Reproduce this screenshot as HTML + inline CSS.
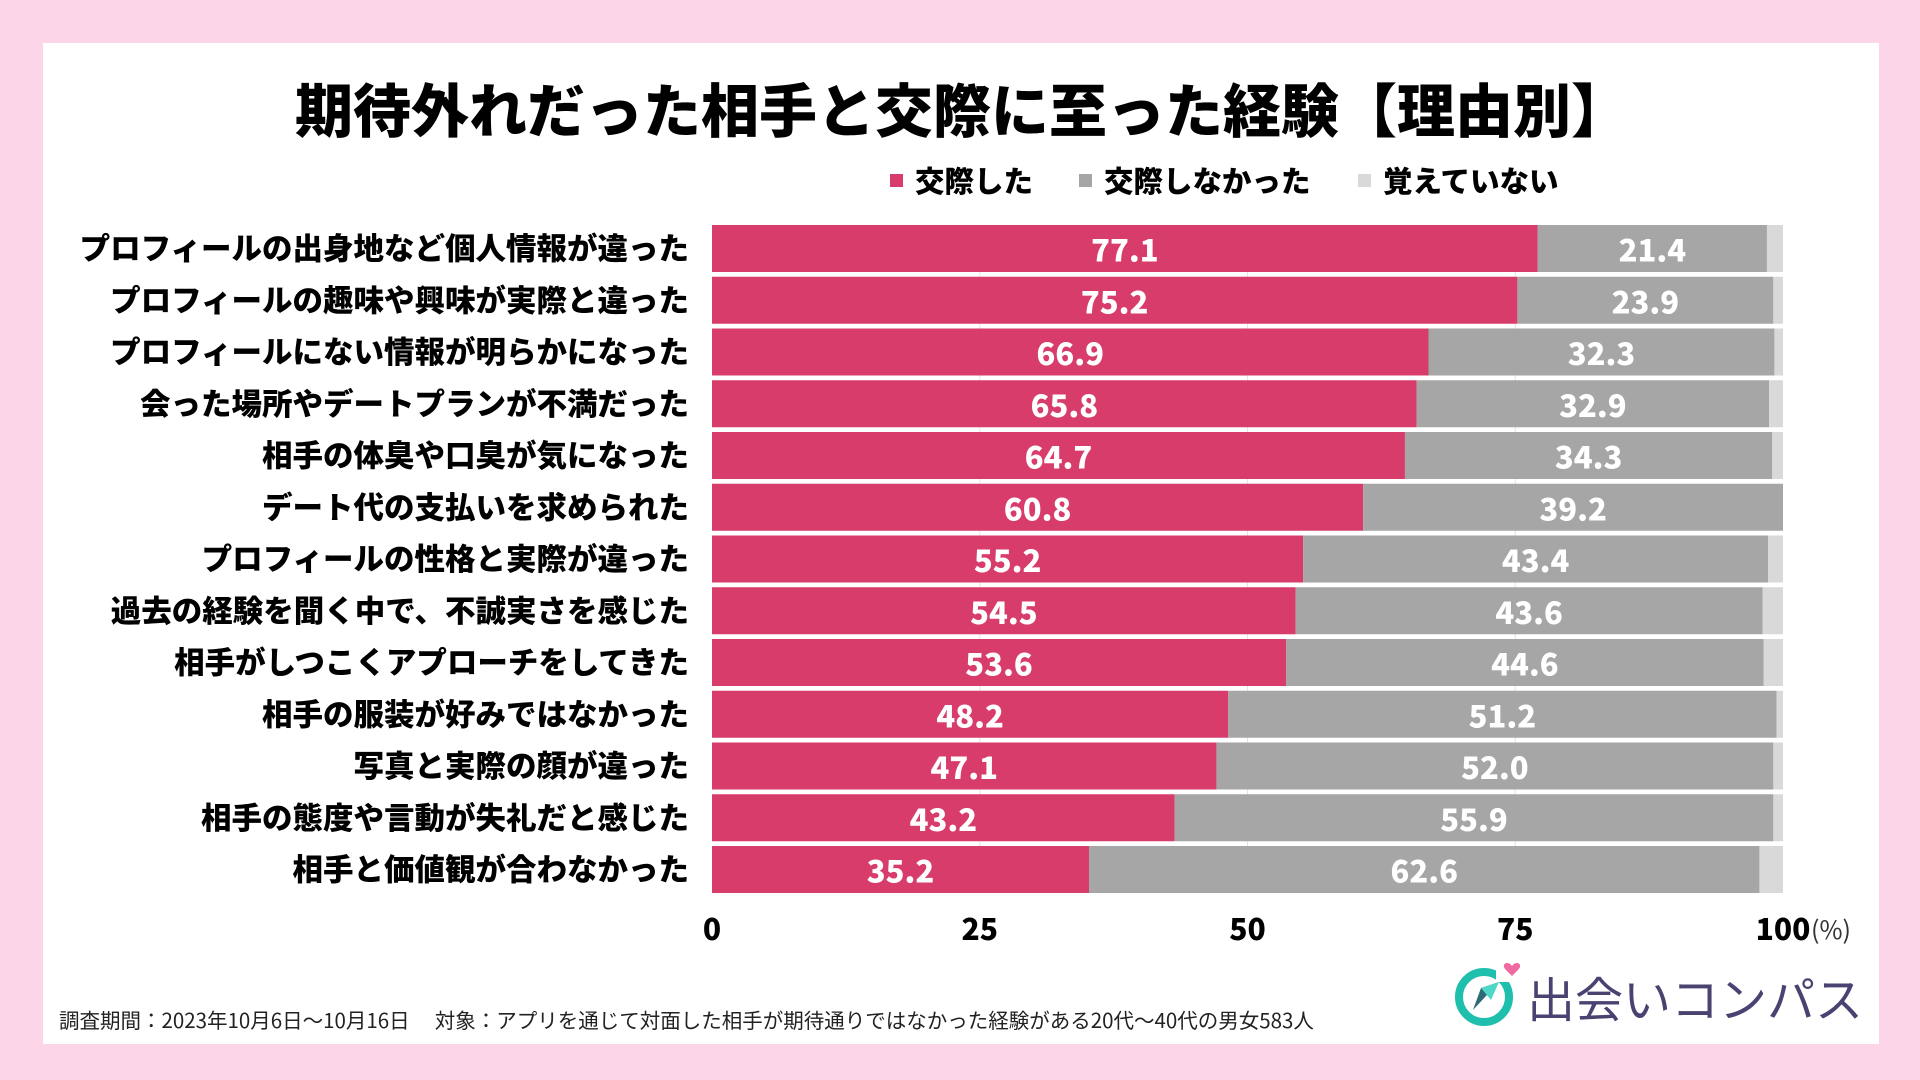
<!DOCTYPE html>
<html><head><meta charset="utf-8">
<style>
body{margin:0;width:1920px;height:1080px;background:#fdd5e8;overflow:hidden;font-family:"Liberation Sans","Noto Sans CJK JP",sans-serif;}
#panel{position:absolute;left:43px;top:43px;width:1836px;height:1001px;background:#fff;}
</style></head><body>
<div id="panel"></div>
<svg id="chart" width="1920" height="1080" style="position:absolute;left:0;top:0">
<text x="962" y="132" text-anchor="middle" font-size="58" font-weight="900" fill="#000" font-family="Noto Sans CJK JP, sans-serif">期待外れだった相手と交際に至った経験【理由別】</text>
<g font-size="29.5" font-weight="900" font-family="Noto Sans CJK JP, sans-serif">
<rect x="890" y="174" width="13" height="13" fill="#d83c6a"/>
<text x="915" y="192">交際した</text>
<rect x="1079" y="174" width="13" height="13" fill="#a6a6a6"/>
<text x="1104" y="192">交際しなかった</text>
<rect x="1358" y="174" width="13" height="13" fill="#d9d9d9"/>
<text x="1383" y="192">覚えていない</text>
</g>
<g id="grid"></g><g id="bars"></g><g id="labels"></g><g id="axis"></g>
<text x="59" y="1028" font-size="20.5" fill="#222" font-family="Noto Sans CJK JP, sans-serif">調査期間：2023年10月6日〜10月16日　 対象：アプリを通じて対面した相手が期待通りではなかった経験がある20代〜40代の男女583人</text>
<g>
<circle cx="1484" cy="997" r="25" fill="none" stroke="#1fbfae" stroke-width="8"/>
<rect x="1496" y="960" width="22" height="22" fill="#fff"/>
<path d="M1512 966 c-4 -6 -12 -2 -6 4 l6 6 6 -6 c6 -6 -2 -10 -6 -4z" fill="#ef6aa0"/>
<polygon points="1473,1010 1481,988 1499,982" fill="#2e6a75"/>
<polygon points="1481,988 1499,982 1491,1000" fill="#4fd8c8"/>
<text x="1527" y="1017" font-size="48" fill="#4a4270" font-family="Noto Sans CJK JP, sans-serif">出会いコンパス</text>
</g>
</svg>
<script>
const categories=["プロフィールの出身地など個人情報が違った","プロフィールの趣味や興味が実際と違った","プロフィールにない情報が明らかになった","会った場所やデートプランが不満だった","相手の体臭や口臭が気になった","デート代の支払いを求められた","プロフィールの性格と実際が違った","過去の経験を聞く中で、不誠実さを感じた","相手がしつこくアプローチをしてきた","相手の服装が好みではなかった","写真と実際の顔が違った","相手の態度や言動が失礼だと感じた","相手と価値観が合わなかった"];
const dated=[77.1,75.2,66.9,65.8,64.7,60.8,55.2,54.5,53.6,48.2,47.1,43.2,35.2];
const notDated=[21.4,23.9,32.3,32.9,34.3,39.2,43.4,43.6,44.6,51.2,52.0,55.9,62.6];
const dontRemember=[1.5,0.9,0.8,1.3,1.0,0.0,1.4,1.9,1.8,0.6,0.9,0.9,2.2];
const ticks=[0,25,50,75,100];
const NS="http://www.w3.org/2000/svg";
const X0=712,X1=1783,Y0=225,PITCH=51.75,BH=47;
const xs=v=>X0+(X1-X0)*v/100;
const yb=i=>Y0+i*PITCH;
function mk(t,a,p){const e=document.createElementNS(NS,t);for(const k in a)e.setAttribute(k,a[k]);p.appendChild(e);return e;}
const grid=document.getElementById('grid'),bars=document.getElementById('bars'),labels=document.getElementById('labels'),axis=document.getElementById('axis');
ticks.slice(1,4).forEach(t=>{const l=mk('line',{x1:xs(t),x2:xs(t),y1:Y0,y2:yb(categories.length-1)+BH,stroke:'#e4e4e4','stroke-width':1},grid);

});
categories.forEach((c,i)=>{
 const y=yb(i);
 const segs=[[0,dated[i],'#d83c6a','bar-dated'],[dated[i],notDated[i],'#a6a6a6','bar-not-dated'],[dated[i]+notDated[i],dontRemember[i],'#d9d9d9','bar-dont-remember']];
 segs.forEach(s=>{const r=mk('rect',{x:xs(s[0]),y:y,width:Math.max(0,xs(s[0]+s[1])-xs(s[0])),height:BH,fill:s[2]},bars);
 
 });
 const t=mk('text',{x:689,y:y+BH/2+11,'text-anchor':'end','font-size':30.5,'font-weight':900,'font-family':'Noto Sans CJK JP, sans-serif'},labels);t.textContent=c;
 
 
 [[dated[i],0],[notDated[i],dated[i]]].forEach((v,k)=>{const tv=mk('text',{x:(xs(v[1])+xs(v[1]+v[0]))/2,y:y+BH/2+13,'text-anchor':'middle','font-size':31,'font-weight':900,fill:'#fff','font-family':'Noto Sans CJK JP, sans-serif'},labels);tv.textContent=v[0].toFixed(1);
 
 });
});
ticks.forEach(t=>{const e=mk('text',{x:xs(t),y:940,'text-anchor':'middle','font-size':30,'font-weight':900,'font-family':'Noto Sans CJK JP, sans-serif'},axis);e.textContent=t;

});
const u=mk('text',{x:xs(100)+28,y:939,'font-size':25,fill:'#333','font-family':'Noto Sans CJK JP, sans-serif'},axis);u.textContent='(%)';


</script>
</body></html>
